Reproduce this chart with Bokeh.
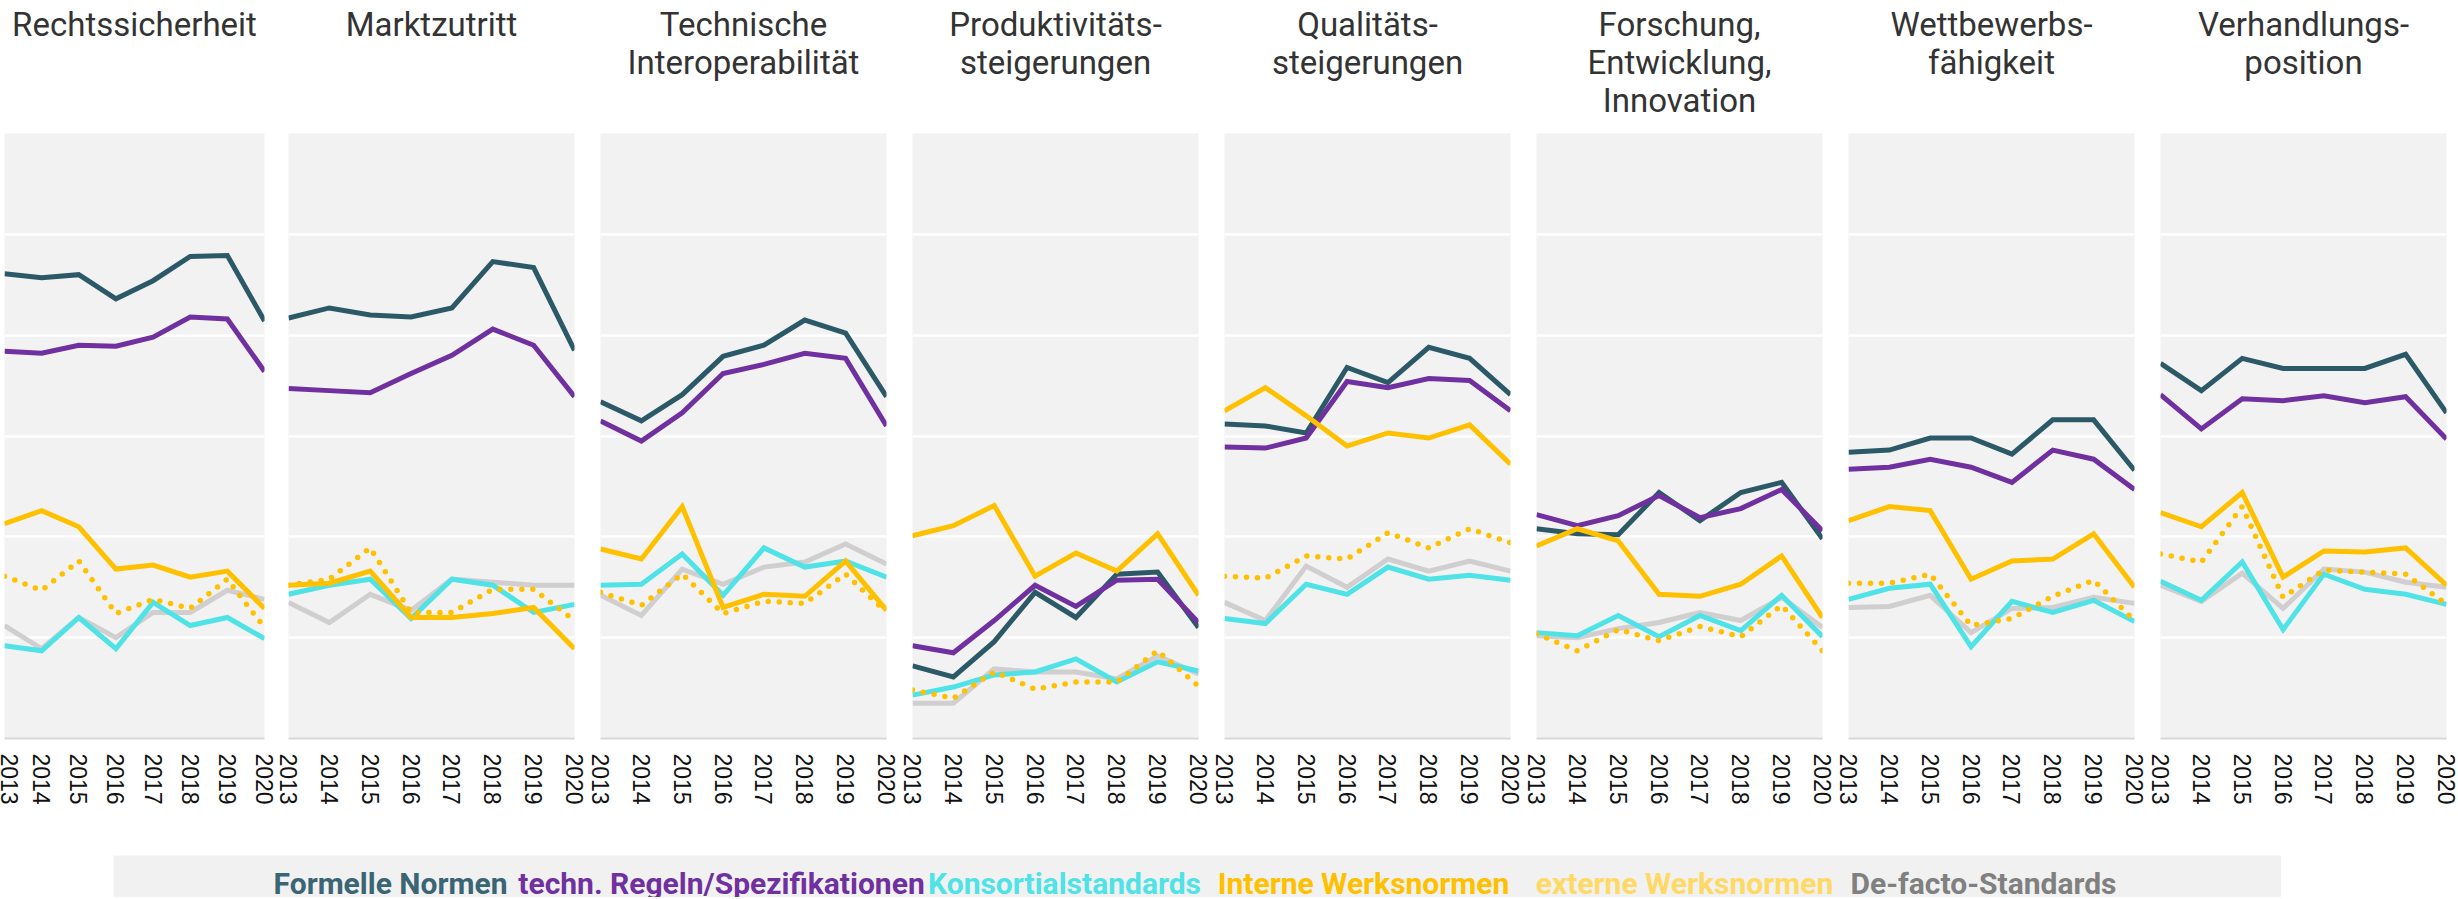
from bokeh.plotting import figure
from bokeh.layouts import column, row, Spacer
from bokeh.models import Range1d, FixedTicker, Grid
from bokeh.core.properties import value
from bokeh.embed import file_html
from bokeh.resources import INLINE

# ---------------- data ----------------
years = [2013, 2014, 2015, 2016, 2017, 2018, 2019, 2020]

panel_titles = [
    "Rechtssicherheit",
    "Marktzutritt",
    "Technische\nInteroperabilität",
    "Produktivitäts-\nsteigerungen",
    "Qualitäts-\nsteigerungen",
    "Forschung,\nEntwicklung,\nInnovation",
    "Wettbewerbs-\nfähigkeit",
    "Verhandlungs-\nposition",
]

series_names = [
    "Formelle Normen",
    "techn. Regeln/Spezifikationen",
    "Konsortialstandards",
    "Interne Werksnormen",
    "externe Werksnormen",
    "De-facto-Standards",
]

# one inner list per panel (same order as panel_titles), one value per year
formelle_normen = [
    [46.1, 45.7, 46.0, 43.6, 45.4, 47.8, 47.9, 41.4],
    [41.7, 42.7, 42.0, 41.8, 42.7, 47.3, 46.7, 38.5],
    [33.4, 31.5, 34.1, 37.9, 39.0, 41.5, 40.2, 33.9],
    [7.2, 6.1, 9.6, 14.5, 12.0, 16.3, 16.5, 11.0],
    [31.2, 31.0, 30.3, 36.8, 35.3, 38.8, 37.7, 34.1],
    [20.8, 20.3, 20.2, 24.4, 21.6, 24.4, 25.4, 19.8],
    [28.4, 28.6, 29.8, 29.8, 28.2, 31.6, 31.6, 26.6],
    [37.2, 34.5, 37.7, 36.7, 36.7, 36.7, 38.1, 32.3],
]
techn_regeln = [
    [38.4, 38.2, 39.0, 38.9, 39.8, 41.8, 41.6, 36.4],
    [34.7, 34.5, 34.3, 36.2, 38.0, 40.6, 39.0, 33.9],
    [31.5, 29.5, 32.3, 36.2, 37.1, 38.2, 37.7, 31.0],
    [9.2, 8.5, 11.7, 15.2, 13.1, 15.7, 15.8, 11.5],
    [28.9, 28.8, 29.8, 35.4, 34.8, 35.7, 35.5, 32.5],
    [22.2, 21.1, 22.1, 24.1, 21.9, 22.8, 24.7, 20.6],
    [26.7, 26.9, 27.7, 26.9, 25.4, 28.6, 27.7, 24.7],
    [34.1, 30.7, 33.7, 33.5, 34.0, 33.3, 33.9, 29.7],
]
konsortialstandards = [
    [9.2, 8.7, 12.0, 8.9, 13.5, 11.2, 12.0, 9.9],
    [14.3, 15.2, 15.8, 11.9, 15.8, 15.2, 12.5, 13.3],
    [15.2, 15.3, 18.3, 14.2, 18.9, 17.0, 17.6, 16.0],
    [4.3, 5.1, 6.3, 6.6, 7.9, 5.6, 7.6, 6.7],
    [11.9, 11.4, 15.3, 14.3, 17.0, 15.8, 16.2, 15.7],
    [10.5, 10.2, 12.2, 10.1, 12.2, 10.7, 14.2, 10.1],
    [13.8, 14.9, 15.3, 9.1, 13.6, 12.5, 13.7, 11.6],
    [15.6, 13.7, 17.5, 10.8, 16.3, 14.8, 14.3, 13.3],
]
interne_werksnormen = [
    [21.3, 22.6, 21.0, 16.8, 17.2, 16.0, 16.6, 12.9],
    [15.2, 15.4, 16.6, 12.0, 12.0, 12.4, 13.0, 8.9],
    [18.8, 17.8, 23.0, 13.0, 14.3, 14.1, 17.6, 12.7],
    [20.1, 21.1, 23.1, 16.1, 18.4, 16.6, 20.3, 14.2],
    [32.5, 34.8, 32.0, 29.0, 30.3, 29.8, 31.1, 27.2],
    [19.1, 20.8, 19.6, 14.3, 14.1, 15.3, 18.1, 12.0],
    [21.6, 23.0, 22.6, 15.8, 17.6, 17.8, 20.3, 15.0],
    [22.4, 21.0, 24.4, 16.0, 18.6, 18.5, 18.9, 15.2],
]
externe_werksnormen = [
    [16.1, 14.7, 17.6, 12.4, 13.8, 12.9, 15.8, 11.0],
    [15.2, 15.8, 18.9, 12.5, 12.5, 14.8, 14.8, 11.7],
    [14.5, 13.2, 16.3, 12.4, 13.6, 13.4, 16.3, 12.5],
    [4.8, 4.0, 6.6, 4.9, 5.6, 5.6, 8.7, 5.2],
    [16.1, 15.9, 18.1, 17.8, 20.4, 18.9, 20.8, 19.4],
    [10.4, 8.7, 10.8, 9.7, 11.1, 10.1, 13.2, 8.7],
    [15.4, 15.4, 16.3, 11.2, 11.9, 14.1, 15.7, 11.7],
    [18.3, 17.5, 23.0, 14.0, 16.7, 16.5, 16.3, 13.3],
]
de_facto_standards = [
    [11.2, 8.9, 12.0, 10.0, 12.5, 12.5, 14.7, 13.8],
    [13.5, 11.5, 14.3, 12.7, 15.8, 15.5, 15.2, 15.2],
    [14.2, 12.2, 16.8, 15.3, 17.0, 17.5, 19.3, 17.3],
    [3.5, 3.5, 6.9, 6.6, 6.6, 5.9, 8.2, 6.4],
    [13.5, 11.7, 17.1, 15.0, 17.8, 16.6, 17.6, 16.6],
    [10.2, 10.0, 10.9, 11.5, 12.5, 11.7, 14.0, 11.0],
    [13.0, 13.1, 14.2, 10.5, 12.9, 13.0, 14.0, 13.4],
    [15.2, 13.6, 16.4, 12.9, 16.8, 16.5, 15.5, 15.0],
]

grid_values = [10, 20, 30, 40, 50]

# ---------------- styles ----------------
BG = "#f2f2f2"
line_colors = {
    "Formelle Normen": "#2c5968",
    "techn. Regeln/Spezifikationen": "#7030a0",
    "Konsortialstandards": "#4fe2e6",
    "Interne Werksnormen": "#ffc000",
    "externe Werksnormen": "#ffc000",
    "De-facto-Standards": "#d0cece",
}
legend_colors = {
    "Formelle Normen": "#3a6574",
    "techn. Regeln/Spezifikationen": "#7030a0",
    "Konsortialstandards": "#4fe2e6",
    "Interne Werksnormen": "#ffc000",
    "externe Werksnormen": "#ffd966",
    "De-facto-Standards": "#808080",
}
series_data = {
    "Formelle Normen": formelle_normen,
    "techn. Regeln/Spezifikationen": techn_regeln,
    "Konsortialstandards": konsortialstandards,
    "Interne Werksnormen": interne_werksnormen,
    "externe Werksnormen": externe_werksnormen,
    "De-facto-Standards": de_facto_standards,
}
draw_order = [
    "De-facto-Standards",
    "Konsortialstandards",
    "externe Werksnormen",
    "Formelle Normen",
    "techn. Regeln/Spezifikationen",
    "Interne Werksnormen",
]

# layout (pixels)
frame_h = 605
title_h = 133
bottom_border = 117
frame_widths = [260, 286, 286, 286, 286, 286, 286, 286]
left_borders = [4, 12, 12, 12, 12, 12, 12, 12]
right_borders = [12, 14, 14, 14, 14, 14, 14, 10]
legend_offset = 113
legend_width = 2168
legend_height = 42
legend_centers = [277, 608, 951, 1250, 1571, 1870]


def clean(p):
    p.xgrid.visible = False
    p.ygrid.visible = False


title_figs = []
panel_figs = []
for i, title in enumerate(panel_titles):
    fw = frame_widths[i]
    bl = left_borders[i]
    br = right_borders[i]
    total_w = fw + bl + br

    # ---- title strip ----
    t = figure(frame_width=total_w, frame_height=title_h, min_border=0,
               x_range=Range1d(0, total_w), y_range=Range1d(-title_h, 0),
               x_axis_location=None, y_axis_location=None,
               toolbar_location=None, output_backend="svg",
               outline_line_color=None, background_fill_color="white",
               border_fill_color="white")
    clean(t)
    t.text(x=[bl + fw / 2], y=[-4], text=[title], text_align="center",
           text_baseline="top", text_font=value("Roboto"),
           text_font_size="33px", text_color="#333333",
           text_line_height=0.98)
    title_figs.append(t)

    # ---- panel ----
    p = figure(frame_width=fw, frame_height=frame_h,
               min_border_left=bl, min_border_right=br,
               min_border_top=0, min_border_bottom=bottom_border,
               x_range=Range1d(years[0], years[-1]), y_range=Range1d(0, 60),
               y_axis_location=None, toolbar_location=None,
               output_backend="svg", background_fill_color=BG,
               border_fill_color="white", outline_line_color=None)
    clean(p)
    p.add_layout(Grid(dimension=1, ticker=FixedTicker(ticks=grid_values),
                      grid_line_color="white", grid_line_width=2.5))
    ax = p.xaxis[0]
    ax.ticker = FixedTicker(ticks=years)
    ax.major_label_orientation = "vertical"
    ax.major_tick_line_color = None
    ax.minor_tick_line_color = None
    ax.major_tick_out = 0
    ax.major_tick_in = 0
    ax.major_label_standoff = 15
    ax.axis_line_color = "#d8d8d8"
    ax.axis_line_width = 2
    ax.major_label_text_font = "Liberation Sans"
    ax.major_label_text_font_size = "23px"
    ax.major_label_text_color = "#111111"

    for name in draw_order:
        vals = series_data[name][i]
        if name == "externe Werksnormen":
            p.line(years, vals, line_color=line_colors[name], line_width=5.5,
                   line_dash="0 11", line_cap="round")
        else:
            p.line(years, vals, line_color=line_colors[name], line_width=5,
                   line_join="miter")
    panel_figs.append(p)

# ---- legend ----
lg = figure(frame_width=legend_width, frame_height=legend_height, min_border=0,
            x_range=Range1d(0, legend_width), y_range=Range1d(0, legend_height),
            x_axis_location=None, y_axis_location=None,
            toolbar_location=None, output_backend="svg",
            outline_line_color=None, background_fill_color="#f1f1f1",
            border_fill_color="#f1f1f1")
clean(lg)
lg.text(x=legend_centers, y=[14] * len(series_names), text=series_names,
        text_align="center", text_baseline="middle",
        text_font=value("Roboto"), text_font_style="bold",
        text_font_size="30px",
        text_color=[legend_colors[n] for n in series_names])

layout = column(
    row(*title_figs),
    row(*panel_figs),
    row(Spacer(width=legend_offset), lg),
)

open("out.html", "w").write(file_html(layout, INLINE))
